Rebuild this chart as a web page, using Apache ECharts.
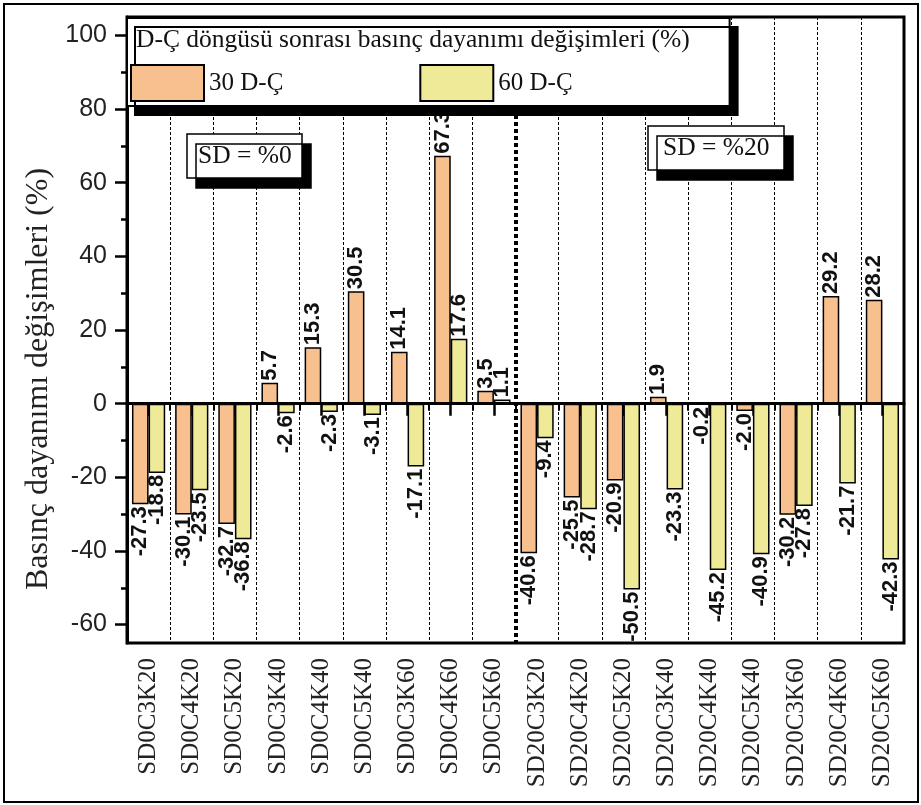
<!DOCTYPE html>
<html>
<head>
<meta charset="utf-8">
<script src="https://cdn.jsdelivr.net/npm/echarts@6/dist/echarts.min.js"></script>
<style>
html,body{margin:0;padding:0;background:#fff;}
#chart{width:921px;height:805px;}
#frame{position:absolute;left:3px;top:3px;width:912px;height:796px;border:2px solid #000;pointer-events:none;}
</style>
</head>
<body>
<div id="chart"></div>
<div id="frame"></div>
<script>
const categories = ["SD0C3K20","SD0C4K20","SD0C5K20","SD0C3K40","SD0C4K40","SD0C5K40","SD0C3K60","SD0C4K60","SD0C5K60",
  "SD20C3K20","SD20C4K20","SD20C5K20","SD20C3K40","SD20C4K40","SD20C5K40","SD20C3K60","SD20C4K60","SD20C5K60"];
const groups = ["SD = %0", "SD = %20"];
const series30Name = "30 D-Ç";
const series60Name = "60 D-Ç";
const values30 = [-27.3,-30.1,-32.7,5.7,15.3,30.5,14.1,67.3,3.5,-40.6,-25.5,-20.9,1.9,-0.2,-2.0,-30.2,29.2,28.2];
const values60 = [-18.8,-23.5,-36.8,-2.6,-2.3,-3.1,-17.1,17.6,1.1,-9.4,-28.7,-50.5,-23.3,-45.2,-40.9,-27.8,-21.7,-42.3];
const yMajorTicks = [-60,-40,-20,0,20,40,60,80,100];
const yMinorTicks = [-50,-30,-10,10,30,50,70,90];
const yMin = -65, yMax = 105;
const groupSize = 9;
const legendTitle = "D-Ç döngüsü sonrası basınç dayanımı değişimleri (%)";
const yAxisTitle = "Basınç dayanımı değişimleri (%)";

const labelFont = {fontFamily:"Liberation Sans", fontSize:22, fontWeight:"bold", color:"#111"};
function toItems(arr){
  return arr.map(v => ({
    value: v,
    label: Object.assign({
      show: true,
      position: v >= 0 ? "top" : "bottom",
      rotate: 90,
      align: v >= 0 ? "left" : "right",
      verticalAlign: "middle",
      distance: 2,
      formatter: p => p.value.toFixed(1)
    }, labelFont)
  }));
}

const chart = echarts.init(document.getElementById("chart"), null, {renderer:"canvas"});
const serif = "Liberation Serif";
const boxText = {fontFamily:serif, fontSize:25.5, fontWeight:"normal", color:"#111"};
chart.setOption({
  animation: false,
  backgroundColor: "#fff",
  grid: {left:127, right:17, top:17, bottom:162, show:true, borderColor:"#000", borderWidth:3, backgroundColor:"transparent"},
  title: [
    {text: legendTitle, left:136, top:27, padding:0, z:10, textStyle:boxText},
    {text: groups[0], left:187, top:134, padding:[9,11,9,11], backgroundColor:"#fff",
     borderColor:"#000", borderWidth:1.5, shadowColor:"#000", shadowBlur:0, shadowOffsetX:9, shadowOffsetY:10,
     textStyle:boxText},
    {text: groups[1], left:648, top:126, padding:[9,15,9,15], backgroundColor:"#fff",
     borderColor:"#000", borderWidth:1.5, shadowColor:"#000", shadowBlur:0, shadowOffsetX:9, shadowOffsetY:10,
     textStyle:boxText}
  ],
  legend: {
    left:127, top:18, orient:"horizontal", z:6,
    padding:[46,157,4,3],
    icon:"rect",
    itemWidth:73, itemHeight:36, itemGap:136,
    backgroundColor:"#fff", borderColor:"#000", borderWidth:2,
    shadowColor:"#000", shadowBlur:0, shadowOffsetX:8, shadowOffsetY:9,
    itemStyle:{borderColor:"#000", borderWidth:2},
    textStyle:{fontFamily:serif, fontSize:25, color:"#111"},
    data:[series30Name, series60Name]
  },
  xAxis: [
    {type:"category", data:categories, position:"bottom",
     axisLine:{show:true, lineStyle:{color:"#000", width:3}},
     axisTick:{show:true, interval:0, alignWithLabel:true, length:12, lineStyle:{color:"#000", width:2.5}},
     axisLabel:{interval:0, rotate:90, margin:15, fontFamily:serif, fontSize:25, color:"#222"},
     splitLine:{show:false}},
    {type:"category", data:categories, position:"bottom", offset:0,
     axisLine:{show:false},
     axisTick:{show:true, interval:0, length:7, lineStyle:{color:"#000", width:2}},
     axisLabel:{show:false},
     splitLine:{show:true, interval:(idx) => idx !== groupSize, lineStyle:{color:"#000", width:1, type:[3,2]}}},
    {type:"category", data:groups, position:"top", offset:0, z:1,
     axisLine:{show:false}, axisTick:{show:false}, axisLabel:{show:false},
     splitLine:{show:true, interval:0, showMinLine:false, showMaxLine:false,
       lineStyle:{color:"#000", width:4, type:[4,3]}}}
  ],
  yAxis: [
    {type:"value", min:yMin, max:yMax, position:"left",
     name: yAxisTitle, nameLocation:"middle", nameGap:72,
     nameTextStyle:{fontFamily:serif, fontSize:32, color:"#222", padding:[0,98,0,0]},
     axisLine:{show:true, lineStyle:{color:"#000", width:3}},
     axisTick:{show:true, customValues:yMajorTicks, length:12, lineStyle:{color:"#000", width:2.5}},
     axisLabel:{customValues:yMajorTicks, margin:20, fontFamily:"Liberation Sans", fontSize:25, color:"#222"},
     splitLine:{show:false}},
    {type:"value", min:yMin, max:yMax, position:"left", offset:0,
     axisLine:{show:false},
     axisTick:{show:true, customValues:yMinorTicks, length:6, lineStyle:{color:"#000", width:2.5}},
     axisLabel:{show:false},
     splitLine:{show:false}}
  ],
  series: [
    {name:series30Name, type:"bar", xAxisIndex:0, yAxisIndex:0,
     barGap:"0%", barCategoryGap:"23%",
     itemStyle:{color:"#F8C08F", borderColor:"#000", borderWidth:1.5},
     data: toItems(values30),
     markLine:{silent:true, symbol:"none", label:{show:false},
       data:[ {yAxis:0, lineStyle:{color:"#000", width:3, type:"solid"}} ]}
    },
    {name:series60Name, type:"bar", xAxisIndex:0, yAxisIndex:0,
     barGap:"0%", barCategoryGap:"23%",
     itemStyle:{color:"#EEEA98", borderColor:"#000", borderWidth:1.5},
     data: toItems(values60)}
  ]
});
</script>
</body>
</html>
